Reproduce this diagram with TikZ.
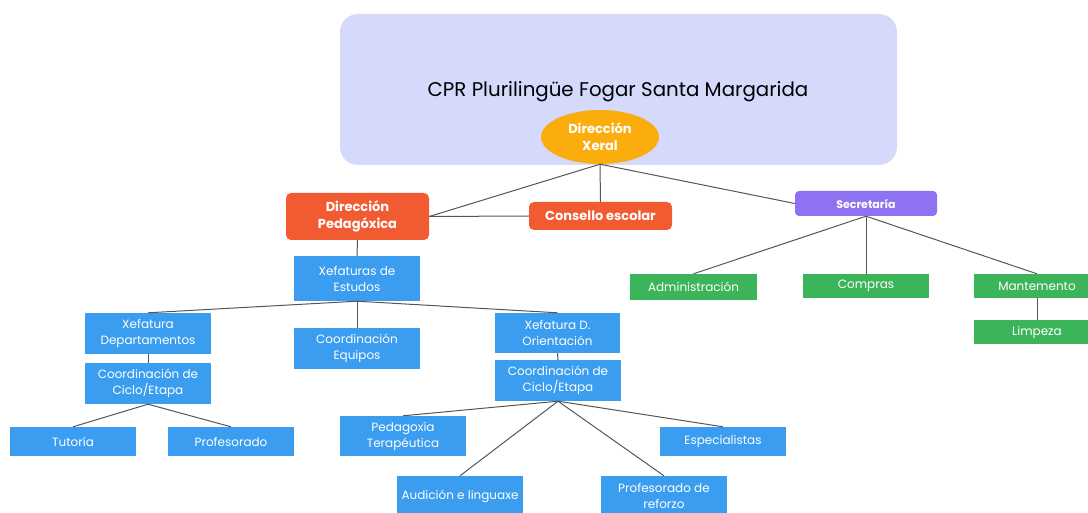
\documentclass[tikz,border=0pt]{standalone}
\usepackage{fontspec}
\setmainfont{Poppins}
\usetikzlibrary{shapes.geometric}
\definecolor{lav}{HTML}{D5D9FB}
\definecolor{orng}{HTML}{FBAD0D}
\definecolor{redo}{HTML}{F25A32}
\definecolor{purp}{HTML}{8E72F2}
\definecolor{grn}{HTML}{3CB55A}
\definecolor{blu}{HTML}{3A9DEF}
\definecolor{lin}{HTML}{555555}
\tikzset{
  box/.style={rectangle, inner sep=0pt, align=center, text=white, font=\fontsize{12}{16}\selectfont},
  bbox/.style={box, fill=blu},
  gbox/.style={box, fill=grn},
  rbox/.style={rectangle, rounded corners=5pt, inner sep=0pt, align=center, text=white, font=\fontsize{13}{17}\selectfont\bfseries},
  conn/.style={draw=lin, line width=1pt}
}
\begin{document}
\begin{tikzpicture}[x=1pt,y=-1pt]
\useasboundingbox (0,0) rectangle (1088,513);
% top panel
\node[rectangle, rounded corners=18pt, fill=lav, minimum width=557pt, minimum height=151pt, inner sep=0pt] (panel) at (618.5,89.5) {};
\node[font=\fontsize{19.8}{23}\selectfont, text=black] (title) at (618,92) {CPR Plurilingüe Fogar Santa Margarida};
\node[ellipse, fill=orng, minimum width=118pt, minimum height=54pt, inner sep=0pt, align=center, text=white, font=\fontsize{13}{17}\selectfont\bfseries] (dx) at (600,137) {Dirección\\Xeral};
% second level
\node[rbox, fill=redo, minimum width=143pt, minimum height=47pt] (dp) at (357.5,216.5) {Dirección\\Pedagóxica};
\node[rbox, fill=redo, minimum width=143pt, minimum height=28pt] (ce) at (600.5,216) {Consello escolar};
\node[rbox, fill=purp, minimum width=142pt, minimum height=25pt, rounded corners=4pt, font=\fontsize{11}{13}\selectfont\bfseries] (sec) at (866,203.5) {Secretaría};
% green
\node[gbox, minimum width=127pt, minimum height=26pt] (adm) at (693.5,287) {Administración};
\node[gbox, minimum width=126pt, minimum height=24pt] (comp) at (866,286) {Compras};
\node[gbox, minimum width=126pt, minimum height=24pt] (mant) at (1037,286) {Mantemento};
\node[gbox, minimum width=126pt, minimum height=24pt] (limp) at (1037,332) {Limpeza};
% blue
\node[bbox, minimum width=126pt, minimum height=45pt] (xe) at (357,278.5) {Xefaturas de\\Estudos};
\node[bbox, minimum width=126pt, minimum height=41pt] (xd) at (148,333.5) {Xefatura\\Departamentos};
\node[bbox, minimum width=126pt, minimum height=41pt] (ceq) at (357,348.5) {Coordinación\\Equipos};
\node[bbox, minimum width=125pt, minimum height=40pt] (xo) at (557.5,333) {Xefatura D.\\Orientación};
\node[bbox, minimum width=126pt, minimum height=41pt] (cc1) at (148,383.5) {Coordinación de\\Ciclo/Etapa};
\node[bbox, minimum width=126pt, minimum height=29pt] (tut) at (73,441.5) {Tutoría};
\node[bbox, minimum width=126pt, minimum height=29pt] (prof) at (231,441.5) {Profesorado};
\node[bbox, minimum width=126pt, minimum height=41pt] (cc2) at (558,380.5) {Coordinación de\\Ciclo/Etapa};
\node[bbox, minimum width=126pt, minimum height=40pt] (pt) at (403,436) {Pedagoxía\\Terapéutica};
\node[bbox, minimum width=126pt, minimum height=29pt] (esp) at (723,441.5) {Especialistas};
\node[bbox, minimum width=126pt, minimum height=40pt] (aud) at (460,496) {Audición e linguaxe};
\node[bbox, minimum width=126pt, minimum height=40pt] (pref) at (664,496) {Profesorado de\\reforzo};
% connectors
\draw[conn] (dx.south) -- (dp.east);
\draw[conn] (dx.south) -- (ce.north);
\draw[conn] (dx.south) -- (sec.west);
\draw[conn] (dp.east) -- (ce.west);
\draw[conn] (sec.south) -- (adm.north);
\draw[conn] (sec.south) -- (comp.north);
\draw[conn] (sec.south) -- (mant.north);
\draw[conn] (mant.south) -- (limp.north);
\draw[conn] (dp.south) -- (xe.north);
\draw[conn] (xe.south) -- (xd.north);
\draw[conn] (xe.south) -- (ceq.north);
\draw[conn] (xe.south) -- (xo.north);
\draw[conn] (xd.south) -- (cc1.north);
\draw[conn] (cc1.south) -- (tut.north);
\draw[conn] (cc1.south) -- (prof.north);
\draw[conn] (xo.south) -- (cc2.north);
\draw[conn] (cc2.south) -- (pt.north);
\draw[conn] (cc2.south) -- (esp.north);
\draw[conn] (cc2.south) -- (aud.north);
\draw[conn] (cc2.south) -- (pref.north);
\end{tikzpicture}
\end{document}
